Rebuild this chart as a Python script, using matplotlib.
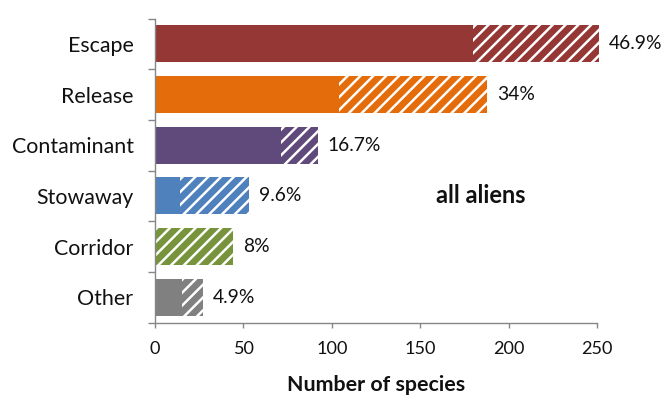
import numpy as np
import matplotlib
matplotlib.use('Agg')
from matplotlib import pyplot as plt

# introduction pathways, top to bottom
pathways = ['Escape', 'Release', 'Contaminant', 'Stowaway', 'Corridor', 'Other']
solid_counts = [180, 104, 71, 14, 0, 15]
total_counts = [251, 188, 92, 53, 44, 27]
share_labels = ['46.9%', '34%', '16.7%', '9.6%', '8%', '4.9%']
bar_colors = ['#953735', '#E46C0A', '#604A7B', '#4F81BD', '#77933C', '#808080']

DPI = 77
plt.rcParams['font.family'] = ['Lato', 'DejaVu Sans']
plt.rcParams['hatch.linewidth'] = 2.3

fig = plt.figure(figsize=(663 / DPI, 401 / DPI), dpi=DPI)
ax = fig.add_axes([155 / 663, 78.5 / 401, 442 / 663, 304 / 401])

y = np.arange(len(pathways))
hatched_counts = [t - s for t, s in zip(total_counts, solid_counts)]

ax.barh(y, solid_counts, height=0.725, color=bar_colors, linewidth=0, clip_on=False)
ax.barh(y, hatched_counts, left=solid_counts, height=0.725, color=bar_colors,
        edgecolor='white', linewidth=0, hatch='//', clip_on=False)

for yi, tot, lab in zip(y, total_counts, share_labels):
    ax.annotate(lab, (tot, yi), xytext=(9.5, 0), textcoords='offset points',
                ha='left', va='center', fontsize=18, color='#111111',
                annotation_clip=False)

ax.text(184, 3, 'all aliens', ha='center', va='center', fontsize=22,
        fontweight='bold', color='#111111')

ax.set_xlim(0, 250)
ax.set_ylim(5.5, -0.5)
ax.set_xticks([0, 50, 100, 150, 200, 250])

# category boundaries get tick marks, names sit on minor ticks
ax.set_yticks(np.arange(-0.5, 6, 1))
ax.set_yticklabels([])
ax.set_yticks(y, minor=True)
ax.set_yticklabels(pathways, minor=True)
ax.tick_params(axis='y', which='major', length=7, width=1.3, color='#868686')
ax.tick_params(axis='y', which='minor', length=0, pad=20, labelsize=20, labelcolor='#111111')
ax.tick_params(axis='x', length=5, width=1.3, color='#868686', pad=12,
               labelsize=17, labelcolor='#111111')

ax.set_xlabel('Number of species', fontsize=20, fontweight='bold', color='#111111', labelpad=17)

for side in ['top', 'right']:
    ax.spines[side].set_visible(False)
for side in ['left', 'bottom']:
    ax.spines[side].set_color('#868686')
    ax.spines[side].set_linewidth(1.3)

plt.savefig('out.png', dpi=DPI)
plt.close()
